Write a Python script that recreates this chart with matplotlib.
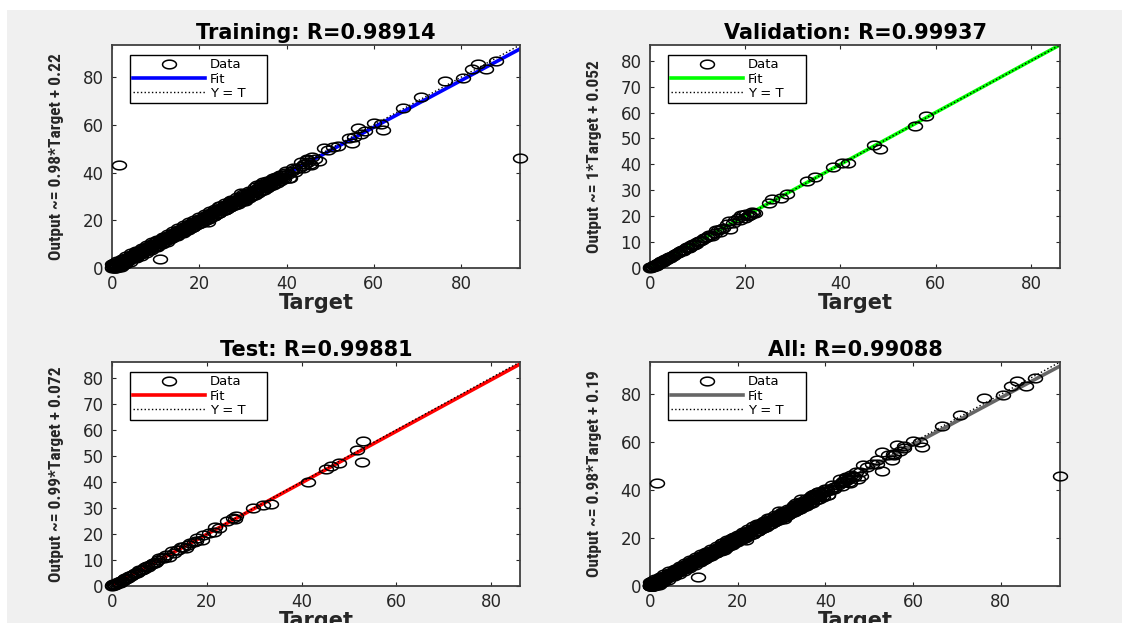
import numpy as np
import matplotlib
matplotlib.use("Agg")
import matplotlib.pyplot as plt
from matplotlib.path import Path
from matplotlib.patches import Rectangle
from matplotlib import font_manager as fm

# ---------------- data ----------------
train_target = [
    # main lane
    0.0, 0.5, 1.0, 1.5, 2.0, 2.5, 3.0, 3.5, 4.0, 4.5, 5.0, 5.5, 6.0, 6.5, 7.0, 7.5,
    8.0, 8.5, 9.0, 9.5, 10.0, 10.5, 11.0, 11.5, 12.0, 12.5, 13.0, 13.5, 14.0, 14.5,
    15.0, 15.5, 16.0, 16.5, 17.0, 17.5, 18.0, 18.5, 19.0, 19.5, 20.0, 20.5, 21.0,
    21.5, 22.0, 22.5, 23.0, 23.5, 24.0, 24.5, 25.0, 25.5, 26.0, 26.5, 27.0, 27.5,
    28.0, 28.5, 29.0, 29.5, 30.0, 30.6, 31.2, 31.8, 32.4, 33.0, 33.6, 34.2, 34.8,
    35.4, 36.0, 36.6, 37.2, 37.8, 38.4, 39.0, 39.7, 40.4, 41.2, 42.0, 42.8, 43.5,
    44.2, 45.0,
    # upper lane
    0.3, 1.2, 2.2, 3.3, 4.4, 5.6, 6.8, 8.0, 9.2, 10.4, 11.6, 12.8, 14.0, 15.2, 16.4,
    17.6, 18.8, 20.0, 21.2, 22.4, 23.6, 24.8, 26.0, 27.3, 28.6, 30.0, 31.4, 32.8,
    34.2, 35.6, 37.0, 38.4, 39.8, 41.5, 43.4, 44.6,
    # slightly above lane
    0.2, 0.8, 1.4, 2.0, 2.6, 3.2, 3.8, 4.4, 5.0, 5.6, 6.2, 6.8, 7.4, 8.0, 8.6, 9.2,
    9.8, 10.4, 11.0, 11.6, 12.2, 12.8, 13.4, 14.0, 14.6, 15.2, 15.8, 16.4, 17.0,
    17.6, 18.2, 18.8, 19.4, 20.0, 20.6, 21.2, 21.8, 22.4, 23.0, 23.6, 24.2, 24.8,
    25.4, 26.0, 26.6, 27.2, 27.8, 28.4, 29.0, 29.6, 30.2, 30.9, 31.6, 32.3, 33.0,
    33.7, 34.4, 35.1, 35.8, 36.5, 37.2, 38.0, 38.8, 39.6,
    # slightly below lane
    0.6, 1.2, 1.8, 2.4, 3.0, 3.6, 4.2, 4.8, 5.4, 6.0, 6.6, 7.2, 7.8, 8.4, 9.0, 9.6,
    10.2, 10.8, 11.4, 12.0, 12.6, 13.2, 13.8, 14.4, 15.0, 15.6, 16.2, 16.8, 17.4,
    18.0, 18.6, 19.2, 19.8, 20.4, 21.0, 21.6, 22.2, 22.8, 23.4, 24.0, 24.6, 25.2,
    25.8, 26.4, 27.0, 27.6, 28.2, 28.8, 29.4, 30.0, 30.7, 31.4, 32.1, 32.8, 33.5,
    34.2, 34.9, 35.6, 36.3, 37.0, 37.8, 38.6, 39.4,
    # lower lane
    1.0, 2.0, 3.0, 4.2, 5.4, 6.6, 7.8, 9.0, 10.2, 11.4, 12.6, 13.8, 15.0, 16.2, 17.4,
    18.6, 19.8, 21.0, 22.2, 23.4, 24.6, 25.8, 27.0, 28.2, 29.4, 30.6, 31.8, 33.0,
    34.3, 35.6, 36.8, 38.0, 39.3, 40.6, 42.0, 43.7, 45.3,
    # blob at origin
    0.0, 0.2, 0.5, 0.8, 0.1, 1.5, 0.4, 2.5,
    # scattered
    1.6, 11.0, 93.5, 76.2, 70.7, 66.6, 80.5, 82.4, 83.8, 85.8, 87.9, 61.6, 60.0,
    62.0, 56.3, 58.0, 55.5, 55.1, 54.3, 57.0, 48.5, 50.6, 51.8, 49.5, 46.5, 45.8,
    44.8, 44.0, 45.7, 47.5, 21.9, 40.7, 37.5, 33.2, 35.5, 31.0, 29.5, 27.0, 34.5,
    36.5, 24.5, 30.5,
]
train_output = [
    0.3, 0.6, 1.3, 1.6, 2.1, 2.8, 3.1, 3.6, 4.1, 4.7, 5.1, 5.6, 6.2, 6.5, 7.1, 7.6,
    8.2, 8.5, 9.1, 9.6, 10.1, 10.4, 11.2, 11.5, 12.0, 12.6, 12.9, 13.5, 14.0, 14.4,
    15.0, 15.4, 15.9, 16.5, 16.8, 17.4, 17.9, 18.3, 18.9, 19.3, 19.8, 20.3, 20.8,
    21.2, 21.8, 22.2, 22.7, 23.3, 23.7, 24.2, 24.7, 25.1, 25.6, 26.1, 26.6, 27.1,
    27.6, 28.0, 28.6, 29.0, 29.5, 30.1, 30.6, 31.4, 31.9, 32.4, 33.1, 33.6, 34.3,
    34.7, 35.4, 35.9, 36.6, 37.1, 37.8, 38.3, 39.1, 39.6, 40.5, 41.3, 42.1, 42.8,
    43.6, 44.3,
    1.8, 2.9, 3.7, 4.9, 6.1, 7.2, 8.3, 9.6, 10.8, 11.9, 13.2, 14.3, 15.6, 16.7, 17.9,
    19.1, 20.2, 21.4, 22.6, 23.7, 24.9, 26.0, 27.2, 28.4, 29.7, 31.0, 32.3, 33.8,
    35.1, 36.3, 37.9, 39.2, 40.6, 42.1, 44.6, 45.7,
    1.3, 1.7, 2.5, 2.9, 3.6, 4.1, 4.8, 5.3, 6.0, 6.5, 7.2, 7.7, 8.4, 8.8, 9.5, 10.0,
    10.7, 11.2, 11.8, 12.4, 12.9, 13.6, 14.0, 14.7, 15.2, 15.9, 16.3, 17.0, 17.5,
    18.1, 18.7, 19.2, 19.9, 20.4, 21.0, 21.6, 22.2, 22.8, 23.4, 24.0, 24.5, 25.2,
    25.7, 26.3, 26.8, 27.5, 28.0, 28.6, 29.2, 29.7, 30.4, 31.0, 31.8, 32.4, 33.2,
    33.8, 34.6, 35.2, 36.0, 36.6, 37.4, 38.1, 38.9, 39.7,
    0.1, 0.5, 1.2, 1.7, 2.4, 2.9, 3.6, 4.1, 4.8, 5.3, 5.9, 6.5, 7.0, 7.7, 8.2, 8.8,
    9.4, 9.9, 10.6, 11.0, 11.7, 12.2, 12.8, 13.4, 13.9, 14.6, 15.0, 15.7, 16.2,
    16.8, 17.4, 17.9, 18.6, 19.0, 19.7, 20.2, 20.8, 21.4, 21.9, 22.6, 23.0, 23.7,
    24.2, 24.8, 25.4, 25.9, 26.6, 27.0, 27.7, 28.2, 28.9, 29.5, 30.3, 30.8, 31.6,
    32.2, 32.9, 33.5, 34.3, 34.8, 35.7, 36.4, 37.2,
    0.0, 0.6, 1.7, 2.7, 4.0, 5.1, 6.4, 7.6, 8.8, 10.0, 11.1, 12.4, 13.6, 14.7, 15.9,
    17.1, 18.3, 19.5, 20.7, 21.9, 23.1, 24.3, 25.4, 26.7, 27.9, 29.0, 30.2, 31.5,
    32.6, 33.9, 35.1, 36.4, 37.6, 37.9, 40.3, 41.9, 43.5,
    0.0, 1.0, 0.2, 0.8, 1.5, 0.5, 2.2, 1.2,
    43.1, 3.8, 46.0, 78.3, 71.5, 66.9, 79.7, 83.6, 85.5, 83.4, 86.7, 60.3, 60.6,
    58.0, 58.7, 57.5, 55.0, 52.4, 54.5, 56.2, 50.3, 50.8, 51.0, 49.6, 45.5, 46.4,
    45.2, 43.8, 43.1, 44.8, 19.3, 37.9, 38.2, 34.6, 33.8, 29.6, 31.3, 28.2, 36.2,
    37.0, 25.8, 28.0,
]

val_target = [
    57.9, 55.6, 47.0, 48.2, 41.6, 40.3, 38.4, 34.7, 33.0, 28.7, 27.5, 25.6, 25.0,
    21.7, 20.6, 19.9, 19.1, 18.4, 16.5, 16.9, 16.1, 13.9, 13.1, 11.6, 10.9,
    0.0, 0.3, 0.6, 0.9, 1.2, 1.5, 1.8, 2.1, 2.5, 2.9, 3.3, 3.7, 4.1, 4.6, 5.1, 5.6,
    6.1, 6.7, 7.2, 7.8, 8.4, 9.0, 9.6, 10.2, 12.3, 14.6, 15.3, 17.5, 21.0, 22.0, 20.2,
    0.1, 0.4, 0.8, 1.1, 1.4, 1.7, 2.0, 2.4, 2.7, 3.1, 3.5, 3.9, 4.3, 4.8, 5.3, 5.8,
    6.4, 6.9, 7.5, 8.1, 8.7, 9.3, 9.9, 10.6, 11.3, 12.0, 12.8, 13.6, 14.3, 15.0,
    17.8, 18.8, 19.6, 20.8, 21.4,
]
val_output = [
    58.5, 54.8, 47.5, 45.8, 40.6, 40.6, 39.1, 35.1, 33.5, 28.4, 27.1, 26.5, 25.2,
    21.3, 20.0, 19.4, 20.6, 19.4, 18.1, 15.1, 16.8, 14.8, 12.3, 11.6, 11.0,
    0.0, 0.5, 0.2, 1.0, 0.8, 1.6, 1.5, 2.3, 2.2, 3.0, 3.1, 3.9, 4.0, 4.8, 5.0, 5.8,
    6.0, 6.9, 7.1, 8.0, 8.2, 9.3, 9.4, 10.5, 12.9, 14.0, 15.6, 17.4, 20.4, 21.4, 21.0,
    0.3, 0.2, 0.6, 1.3, 1.2, 1.9, 1.8, 2.6, 2.5, 3.3, 3.4, 4.1, 4.4, 4.6, 5.5, 5.6,
    6.6, 6.7, 7.7, 7.9, 8.9, 9.0, 10.1, 10.4, 11.7, 11.8, 12.7, 13.5, 14.6, 14.9,
    18.6, 18.5, 20.3, 20.5, 21.8,
]

test_target = [
    52.9, 51.7, 52.8, 47.9, 46.2, 45.2, 41.3, 33.6, 31.9, 29.8, 26.2, 25.5, 24.3,
    21.7, 21.5, 19.3, 18.9, 16.4, 15.6, 13.7, 12.6, 10.7, 10.0,
    0.0, 0.3, 0.6, 1.0, 1.4, 1.8, 2.3, 2.8, 3.3, 3.8, 4.3, 4.9, 5.5, 6.1, 6.7, 7.3,
    8.0, 8.7, 9.3, 11.5, 12.0, 13.0, 14.5, 15.0, 17.2, 18.0, 22.5, 26.0,
    0.1, 0.5, 0.8, 1.2, 1.6, 2.0, 2.5, 3.0, 3.5, 4.0, 4.6, 5.2, 5.8, 6.4, 7.0, 7.7,
    8.4, 9.0, 9.7, 11.0, 14.0, 16.0, 17.8, 20.5,
]
test_output = [
    55.8, 52.4, 47.8, 47.4, 46.1, 44.8, 40.1, 31.7, 31.3, 30.0, 26.8, 26.2, 24.9,
    22.7, 20.6, 19.7, 17.8, 16.5, 14.6, 13.9, 13.3, 11.3, 10.7,
    0.0, 0.6, 0.3, 1.1, 1.0, 2.0, 2.1, 3.0, 3.2, 4.0, 4.2, 5.1, 5.4, 6.3, 6.6, 7.5,
    7.9, 9.0, 9.1, 11.9, 11.2, 12.6, 15.0, 14.8, 17.0, 18.5, 22.2, 25.6,
    0.3, 0.2, 0.7, 1.4, 1.3, 1.8, 2.7, 2.8, 3.7, 3.8, 4.8, 5.0, 6.0, 6.2, 7.2, 7.4,
    8.6, 8.8, 10.0, 10.8, 13.8, 15.9, 17.4, 20.3,
]

all_target = train_target + val_target + test_target
all_output = train_output + val_output + test_output

titles = ["Training: R=0.98914", "Validation: R=0.99937",
          "Test: R=0.99881", "All: R=0.99088"]
ylabels = ["Output ~= 0.98*Target + 0.22", "Output ~= 1*Target + 0.052",
           "Output ~= 0.99*Target + 0.072", "Output ~= 0.98*Target + 0.19"]
fit_slope = [0.98, 1.0, 0.99, 0.98]
fit_intercept = [0.22, 0.052, 0.072, 0.19]
axis_max = [93.5, 86.1, 86.1, 93.5]
ytick_step = [20, 10, 10, 20]
xtick_labels = [0, 20, 40, 60, 80]
legend_labels = ["Data", "Fit", "Y = T"]
fit_colors = ["#0000ff", "#00ff00", "#ff0000", "#666666"]
series = [(train_target, train_output), (val_target, val_output),
          (test_target, test_output), (all_target, all_output)]

# ---------------- fonts ----------------
def available(name):
    try:
        fm.findfont(fm.FontProperties(family=name), fallback_to_default=False)
        return True
    except Exception:
        return False

narrow = None
for cand in ["Liberation Sans Narrow", "DejaVu Sans Condensed", "Roboto Condensed"]:
    if available(cand):
        narrow = cand
        break
if narrow is not None:
    ylab_font = dict(family=[narrow, "DejaVu Sans"], size=12.5, weight="bold")
else:
    ylab_font = dict(family=["DejaVu Sans"], size=10, weight="bold")

plt.rcParams["font.family"] = ["DejaVu Sans"]

# ---------------- figure ----------------
W, H = 1122, 623
fig = plt.figure(figsize=(W / 100, H / 100), dpi=100, facecolor="white")
fig.patches.append(Rectangle((7 / W, 0), 1, (H - 10) / H, transform=fig.transFigure,
                             facecolor="#f0f0f0", edgecolor="none", zorder=-10))

# axes boxes in pixels: left, right, top, bottom
boxes = [(112, 520, 45, 268), (650, 1060, 45, 268),
         (112, 520, 362, 586), (650, 1060, 362, 586)]

theta = np.linspace(0, 2 * np.pi, 64)
ellipse = Path(np.column_stack([1.6 * np.cos(theta), np.sin(theta)]), closed=True)

axcol = "#262626"
for i, (l, r, t, b) in enumerate(boxes):
    ax = fig.add_axes([l / W, (H - b) / H, (r - l) / W, (b - t) / H])
    ax.set_facecolor("white")
    lim = axis_max[i]
    xs = np.array([0, lim])
    tgt, out = series[i]
    fit_line, = ax.plot(xs, fit_slope[i] * xs + fit_intercept[i], color=fit_colors[i],
                        lw=2.6, zorder=2, label=legend_labels[1])
    yt_line, = ax.plot(xs, xs, color="black", ls=":", lw=1.0, zorder=2.5,
                       label=legend_labels[2])
    data_line, = ax.plot(tgt, out, ls="none", marker=ellipse, ms=10, mfc="none",
                         mec="black", mew=1.1, zorder=3, clip_on=False,
                         label=legend_labels[0])
    ax.set_xlim(0, lim)
    ax.set_ylim(0, lim)
    ax.set_xticks(xtick_labels)
    ax.set_yticks(np.arange(0, 81, ytick_step[i]))
    ax.tick_params(direction="in", length=3, width=0.8, top=True, right=True,
                   labelsize=12, colors=axcol, pad=5)
    ax.tick_params(axis="y", pad=6)
    for s in ax.spines.values():
        s.set_color("#404040")
        s.set_linewidth(1.3)
    ax.set_title(titles[i], fontsize=15, fontweight="bold", color="black", pad=4)
    ax.set_xlabel("Target", fontsize=15, fontweight="bold", color="#262626", labelpad=0)
    ax.set_ylabel(ylabels[i], fontdict=ylab_font, color="#262626", labelpad=13)
    leg = ax.legend(handles=[data_line, fit_line, yt_line], loc="upper left",
                    bbox_to_anchor=(18 / 408, 0.5, 137 / 408, 1 - 10 / 223 - 0.5),
                    mode="expand", borderaxespad=0, fontsize=9.5, handlelength=5.4,
                    handletextpad=0.4, labelspacing=0.1, borderpad=0.25,
                    fancybox=False, framealpha=1, edgecolor="black", numpoints=1)
    leg.get_frame().set_linewidth(1.0)
    leg.set_zorder(5)

fig.savefig("out.png", dpi=100, facecolor=fig.get_facecolor())
